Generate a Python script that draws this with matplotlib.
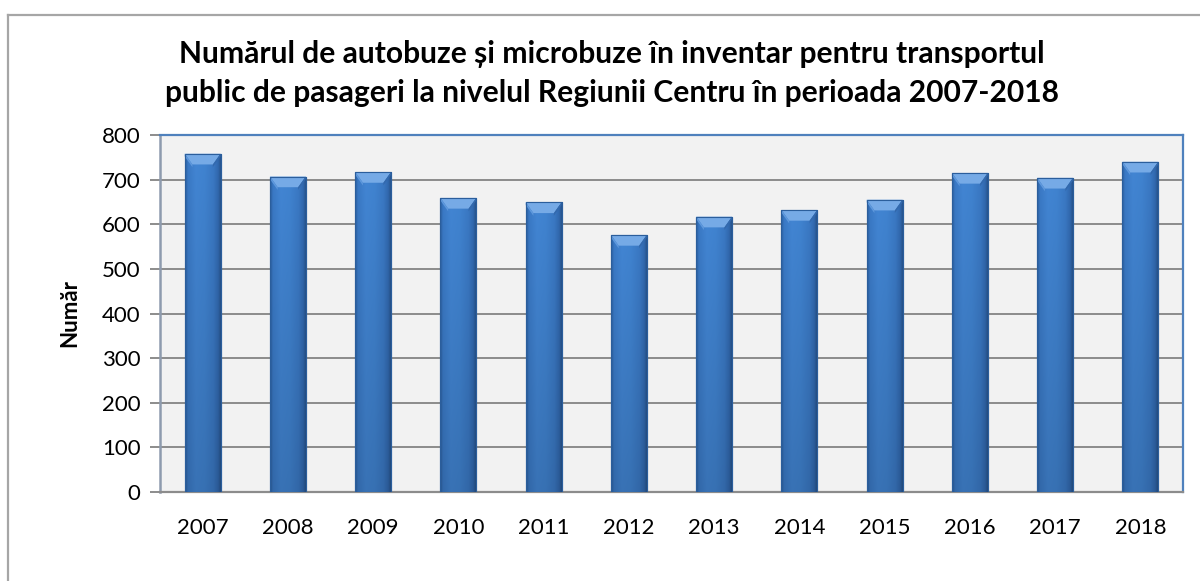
import numpy as np
import matplotlib
matplotlib.use("Agg")
import matplotlib.pyplot as plt
from matplotlib.patches import Polygon
from matplotlib.lines import Line2D
from matplotlib.colors import to_rgb

plt.rcParams['font.family'] = ['Lato', 'DejaVu Sans']

years = ['2007', '2008', '2009', '2010', '2011', '2012',
         '2013', '2014', '2015', '2016', '2017', '2018']
vehicles = [758, 707, 717, 659, 649, 576, 617, 632, 655, 715, 704, 740]

title_lines = ["Numărul de autobuze și microbuze în inventar pentru transportul",
               "public de pasageri la nivelul Regiunii Centru în perioada 2007-2018"]
ylabel = "Număr"
yticks = [0, 100, 200, 300, 400, 500, 600, 700, 800]

W, H = 1200, 581
fig = plt.figure(figsize=(W / 100, H / 100), dpi=100)
fig.patch.set_facecolor('white')

ax = fig.add_axes([160 / W, 1 - 492 / H, (1183 - 160) / W, (492 - 135) / H])
ax.set_facecolor('#F2F2F2')

x = np.arange(len(years))
bar_w = 0.42
bars = ax.bar(x, vehicles, width=bar_w, color='#3B7BC8', edgecolor='#2B5E9C',
              linewidth=0.8, zorder=3)

# shaded body: darker rims left/right, slight darkening toward the base
hprof = np.array([0.0, 0.08, 0.3, 0.55, 0.8, 0.93, 1.0])
hcols = np.array([to_rgb(c) for c in
                  ['#2C5F9F', '#3A79C5', '#4285D3', '#4083D0', '#3A78C3', '#3168AE', '#28558E']])
nx, ny = 64, 64
xs = np.linspace(0, 1, nx)
row = np.stack([np.interp(xs, hprof, hcols[:, k]) for k in range(3)], axis=-1)
vfac = np.linspace(1.0, 0.86, ny)[:, None, None]
img = np.clip(row[None, :, :] * vfac, 0, 1)

bevel_dy = 24      # data units (~11 px)
bevel_dx = 0.09    # category units (~8 px)
for rect in bars:
    x0, w, h = rect.get_x(), rect.get_width(), rect.get_height()
    im = ax.imshow(img, extent=[x0, x0 + w, 0, h], aspect='auto',
                   interpolation='bilinear', zorder=3.1)
    im.set_clip_path(rect)
    top = Polygon([(x0, h), (x0 + w, h), (x0 + w - bevel_dx, h - bevel_dy),
                   (x0 + bevel_dx, h - bevel_dy)], closed=True,
                  facecolor='#76AAE6', edgecolor='none', zorder=3.2)
    ax.add_patch(top)
    ax.add_patch(Polygon([(x0, h), (x0 + bevel_dx, h - bevel_dy),
                          (x0 + bevel_dx, h - bevel_dy - 6), (x0, h - 6)],
                         closed=True, facecolor='#5E98DC', edgecolor='none', zorder=3.2))
    ax.add_patch(Polygon([(x0 + w, h), (x0 + w - bevel_dx, h - bevel_dy),
                          (x0 + w - bevel_dx, h - bevel_dy - 6), (x0 + w, h - 6)],
                         closed=True, facecolor='#3369AD', edgecolor='none', zorder=3.2))
    ax.add_patch(plt.Rectangle((x0, 0), w, h, facecolor='none',
                               edgecolor='#2B5E9C', linewidth=0.8, zorder=3.3))

ax.set_xlim(-0.5, len(years) - 0.5)
ax.set_ylim(0, 800)
ax.set_yticks(yticks)
ax.set_yticklabels([str(v) for v in yticks])
ax.set_xticks(x)
ax.set_xticklabels(years)

ax.yaxis.grid(True, color='#8C8C8C', linewidth=1.4, zorder=1)
ax.set_axisbelow(True)

for s in ['top', 'right']:
    ax.spines[s].set_color('#4F81BD')
    ax.spines[s].set_linewidth(1.6)
ax.spines['left'].set_color('#8E9BAE')
ax.spines['left'].set_linewidth(1.8)
ax.spines['bottom'].set_color('#8C8C8C')
ax.spines['bottom'].set_linewidth(1.6)

ax.tick_params(axis='y', direction='out', length=7, width=1.4, color='#8C8C8C',
               labelsize=16, pad=7)
ax.tick_params(axis='x', length=0, labelsize=16, pad=19)

fig.text(70 / W, 1 - 313 / H, ylabel, rotation=90, ha='center', va='center',
         fontsize=16, fontweight='bold')
for line, base_px in zip(title_lines, [63, 102]):
    fig.text(612 / W, 1 - base_px / H, line, ha='center', va='baseline',
             fontsize=21.6, fontweight='bold')

# outer frame of the chart area
fig.add_artist(Line2D([8 / W, 8 / W], [0, 1 - 15 / H], color='#A6A6A6',
                      linewidth=1.6, transform=fig.transFigure))
fig.add_artist(Line2D([8 / W, 1], [1 - 15 / H, 1 - 15 / H], color='#A6A6A6',
                      linewidth=1.6, transform=fig.transFigure))

fig.savefig('out.png', dpi=100)
